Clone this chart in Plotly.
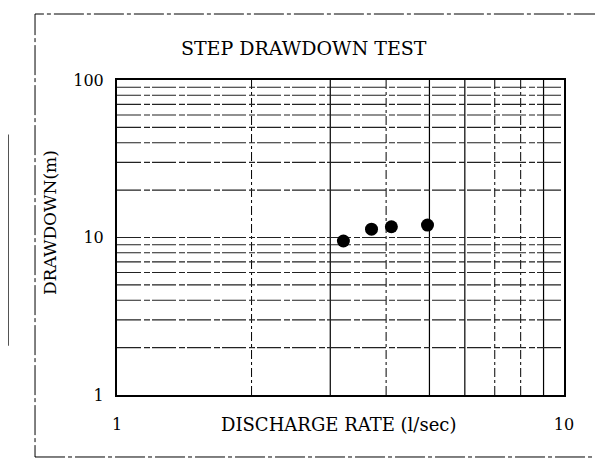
import plotly.graph_objects as go

# Data
discharge = [3.21, 3.71, 4.11, 4.95]      # l/sec
drawdown = [9.5, 11.3, 11.7, 12.0]        # m

x_tick_vals = [1, 10]
x_tick_text = ["1", "10"]
y_tick_vals = [1, 10, 100]
y_tick_text = ["1", "10", "100"]

x_grid_solid = [3, 5, 6, 9]
x_grid_dashdot = [2, 4, 7, 8]
y_grid = [2, 3, 4, 5, 6, 7, 8, 9, 10, 20, 30, 40, 50, 60, 70, 80, 90]

FONT = "DejaVu Serif"

fig = go.Figure()

fig.add_trace(go.Scatter(
    x=discharge, y=drawdown, mode="markers",
    marker=dict(color="black", size=13, line=dict(width=0)),
    showlegend=False, hoverinfo="x+y",
))

shapes = []
for v in x_grid_solid:
    shapes.append(dict(type="line", xref="x", yref="paper", x0=v, x1=v, y0=0, y1=1,
                       line=dict(color="black", width=1.2), layer="below"))
for v in x_grid_dashdot:
    shapes.append(dict(type="line", xref="x", yref="paper", x0=v, x1=v, y0=0, y1=1,
                       line=dict(color="black", width=1, dash="dashdot"), layer="below"))
for v in y_grid:
    shapes.append(dict(type="line", xref="paper", yref="y", x0=0, x1=1, y0=v, y1=v,
                       line=dict(color="#222", width=1.1, dash="24px,3px,6px,2px"),
                       layer="below"))

# outer dashed frame of the scanned figure
shapes.append(dict(type="rect", xref="paper", yref="paper",
                   x0=-0.1834, x1=1.076, y0=-0.1968, y1=1.2095,
                   line=dict(color="black", width=1, dash="30px,3px,4px,3px")))
# partial box of neighbouring figure at far left
shapes.append(dict(type="rect", xref="paper", yref="paper",
                   x0=-0.30, x1=-0.2438, y0=0.1587, y1=0.825,
                   line=dict(color="black", width=1.3)))

# page body has an 8px margin; figure is sized so the plot lands where the reference has it
fig.update_layout(
    width=595, height=452,
    margin=dict(l=109, r=39, t=72, b=65, autoexpand=False),
    paper_bgcolor="white", plot_bgcolor="white",
    font=dict(family=FONT, color="black", size=14),
    title=dict(text="STEP DRAWDOWN TEST", x=0.497, xanchor="center",
               y=0.9115, yanchor="middle", font=dict(family=FONT, size=19)),
    shapes=shapes,
    annotations=[
        dict(text="DISCHARGE RATE (l/sec)", xref="paper", yref="paper",
             x=0.495, y=-0.095, xanchor="center", yanchor="middle",
             showarrow=False, font=dict(family=FONT, size=18)),
        dict(text="DRAWDOWN(m)", xref="paper", yref="paper",
             x=-0.150, y=0.549, xanchor="center", yanchor="middle",
             textangle=-90, showarrow=False, font=dict(family=FONT, size=17)),
    ],
    xaxis=dict(type="log", range=[0, 1], tickvals=x_tick_vals, ticktext=x_tick_text,
               showgrid=False, zeroline=False, showline=True, linecolor="black",
               linewidth=2, mirror=True, ticks="", ticklabelstandoff=14,
               automargin=False, tickfont=dict(family=FONT, size=16)),
    yaxis=dict(type="log", range=[0, 2], tickvals=y_tick_vals, ticktext=y_tick_text,
               showgrid=False, zeroline=False, showline=True, linecolor="black",
               linewidth=2, mirror=True, ticks="", ticklabelstandoff=8,
               automargin=False, tickfont=dict(family=FONT, size=16)),
)

fig.write_html("out.html")
